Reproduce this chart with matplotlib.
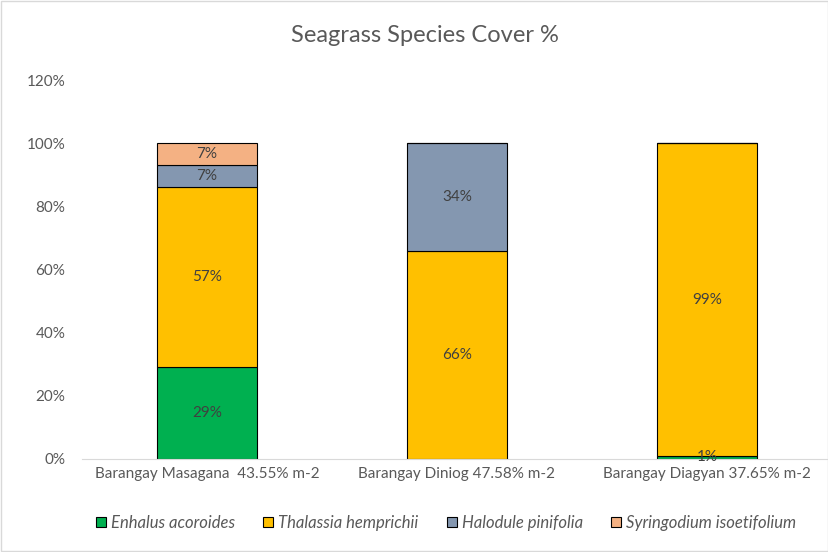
import matplotlib
matplotlib.use("Agg")
import matplotlib.pyplot as plt
from matplotlib.patches import Rectangle

categories = ["Barangay Masagana  43.55% m-2", "Barangay Diniog 47.58% m-2", "Barangay Diagyan 37.65% m-2"]
species = ["Enhalus acoroides", "Thalassia hemprichii", "Halodule pinifolia", "Syringodium isoetifolium"]
enhalus = [29, 0, 1]
thalassia = [57, 66, 99]
halodule = [7, 34, 0]
syringodium = [7, 0, 0]
yticks = [0, 20, 40, 60, 80, 100, 120]

series = [enhalus, thalassia, halodule, syringodium]
colors = ["#00B050", "#FFC000", "#8497B0", "#F4B183"]

plt.rcParams['font.family'] = ['Lato', 'DejaVu Sans']

fig = plt.figure(figsize=(8.29, 5.52), dpi=100)
ax = fig.add_axes([82/829, 1 - 459/552, 747/829, 379/552])

x = list(range(len(categories)))
bottom = [0] * len(categories)
handles = []
for vals, col, name in zip(series, colors, species):
    bars = ax.bar(x, vals, 0.4, bottom=bottom, color=col, edgecolor="black", linewidth=0.8, label=name)
    handles.append(bars)
    for xi, v, b in zip(x, vals, bottom):
        if v > 0:
            ax.text(xi, b + v / 2, f"{v}%", ha="center", va="center", fontsize=11, color="#404040")
    bottom = [b + v for b, v in zip(bottom, vals)]

ax.set_xlim(-0.5, 2.488)
ax.set_ylim(0, 120)
ax.set_yticks(yticks)
ax.set_yticklabels([f"{t}%" for t in yticks])
ax.set_xticks(x)
ax.set_xticklabels(categories)
ax.tick_params(axis="both", length=0, labelsize=11, labelcolor="#595959")
ax.tick_params(axis="y", pad=12)
ax.tick_params(axis="x", pad=6)
for s in ["top", "right", "left"]:
    ax.spines[s].set_visible(False)
ax.spines["bottom"].set_color("#D9D9D9")

fig.text(425/829, 1 - 35/552, "Seagrass Species Cover %", ha="center", va="center", fontsize=17, color="#595959")

leg = fig.legend(handles=handles, labels=species, loc="center", bbox_to_anchor=(0.538, 1 - 523/552), ncol=4,
                 frameon=False, prop={"style": "italic", "size": 12}, handlelength=0.6, handleheight=0.6,
                 handletextpad=0.3, columnspacing=1.7)
for t in leg.get_texts():
    t.set_color("#595959")

fig.add_artist(Rectangle((0.001, 0.001), 0.998, 0.997, transform=fig.transFigure, fill=False, edgecolor="#D9D9D9", linewidth=1))

fig.savefig("out.png", dpi=100)
